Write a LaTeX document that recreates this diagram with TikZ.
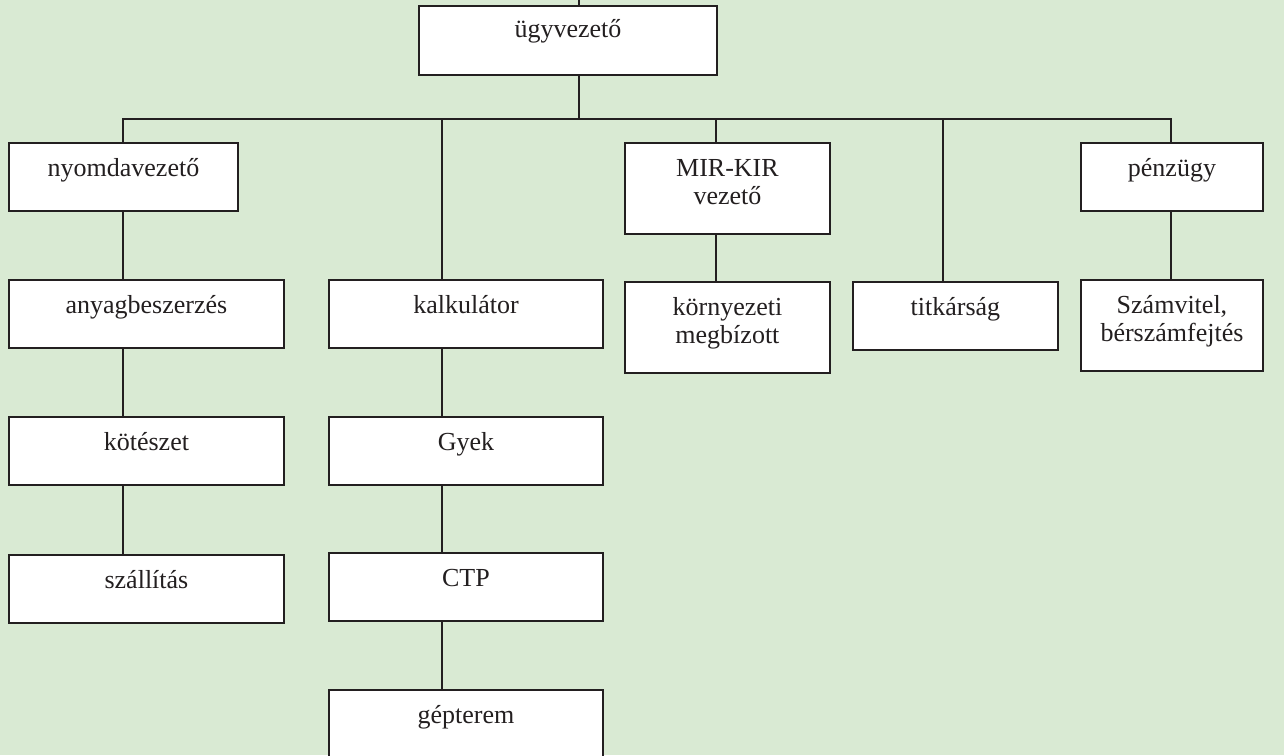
\documentclass[tikz,border=0pt]{standalone}
\usepackage{fontspec}
\setmainfont{Liberation Serif}
\usetikzlibrary{positioning}
\definecolor{bgreen}{RGB}{217,234,211}
\definecolor{ink}{RGB}{35,31,32}

\begin{document}
\begin{tikzpicture}[x=1pt, y=-1pt, line width=1.9pt, color=ink,
        font=\fontsize{26}{28.5}\selectfont,
        box/.style={draw, fill=white, anchor=north west, inner sep=0pt, text height=34pt, text depth=34pt, align=center},
        twoline/.style={text height=62pt, text depth=29pt},
      ]
        % background and page size
        \fill[bgreen] (0,0) rectangle (1284,755);
        \useasboundingbox (0,0) rectangle (1284,755);

        % trunk positions
        \coordinate (bus) at (0,119);
        \coordinate (x0) at (579,0);
        \coordinate (x1) at (123,0);
        \coordinate (x2) at (442,0);
        \coordinate (x3) at (716,0);
        \coordinate (x4) at (943,0);
        \coordinate (x5) at (1171,0);

        % top
        \node[box, minimum width=298pt, text height=32pt, text depth=37pt] (ugy) at (418,5) {ügyvezető};

        % second row
        \node[box, minimum width=229pt] (nyomda) at (8,142) {nyomdavezető};
        \node[box, twoline, minimum width=205pt] (mir) at (624,142) {MIR-KIR\\vezető};
        \node[box, minimum width=182pt] (penz) at (1080,142) {pénzügy};

        % left column
        \foreach \n/\txt/\y in {anyag/anyagbeszerzés/279, kotes/kötészet/416, szall/szállítás/554} {
          \node[box, minimum width=275pt] (\n) at (8,\y) {\txt};
        }

        % second column
        \foreach \n/\txt/\y in {kalk/kalkulátor/279, gyek/Gyek/416, ctp/CTP/552, gep/gépterem/689} {
          \node[box, minimum width=274pt] (\n) at (328,\y) {\txt};
        }

        % right side
        \node[box, twoline, minimum width=205pt] (korny) at (624,281) {környezeti\\megbízott};
        \node[box, minimum width=205pt] (titk) at (852,281) {titkárság};
        \node[box, twoline, minimum width=182pt] (szam) at (1080,279) {Számvitel,\\bérszámfejtés};

        % connectors from the top
        \draw (ugy.north -| x0) -- ++(0,-6);
        \draw (ugy.south -| x0) -- (bus -| x0);
        \draw (nyomda.north -| x1) -- (bus -| x1) -- (bus -| x5) -- (penz.north -| x5);
        \draw (bus -| x2) -- (kalk.north -| x2);
        \draw (bus -| x3) -- (mir.north -| x3);
        \draw (bus -| x4) -- (titk.north -| x4);

        % connectors down the columns
        \draw (nyomda.south -| x1) -- (anyag.north -| x1);
        \foreach \a/\b in {anyag/kotes, kotes/szall} \draw (\a.south -| x1) -- (\b.north -| x1);
        \foreach \a/\b in {kalk/gyek, gyek/ctp, ctp/gep} \draw (\a.south -| x2) -- (\b.north -| x2);
        \draw (mir.south -| x3) -- (korny.north -| x3);
        \draw (penz.south -| x5) -- (szam.north -| x5);
      \end{tikzpicture}
\end{document}
